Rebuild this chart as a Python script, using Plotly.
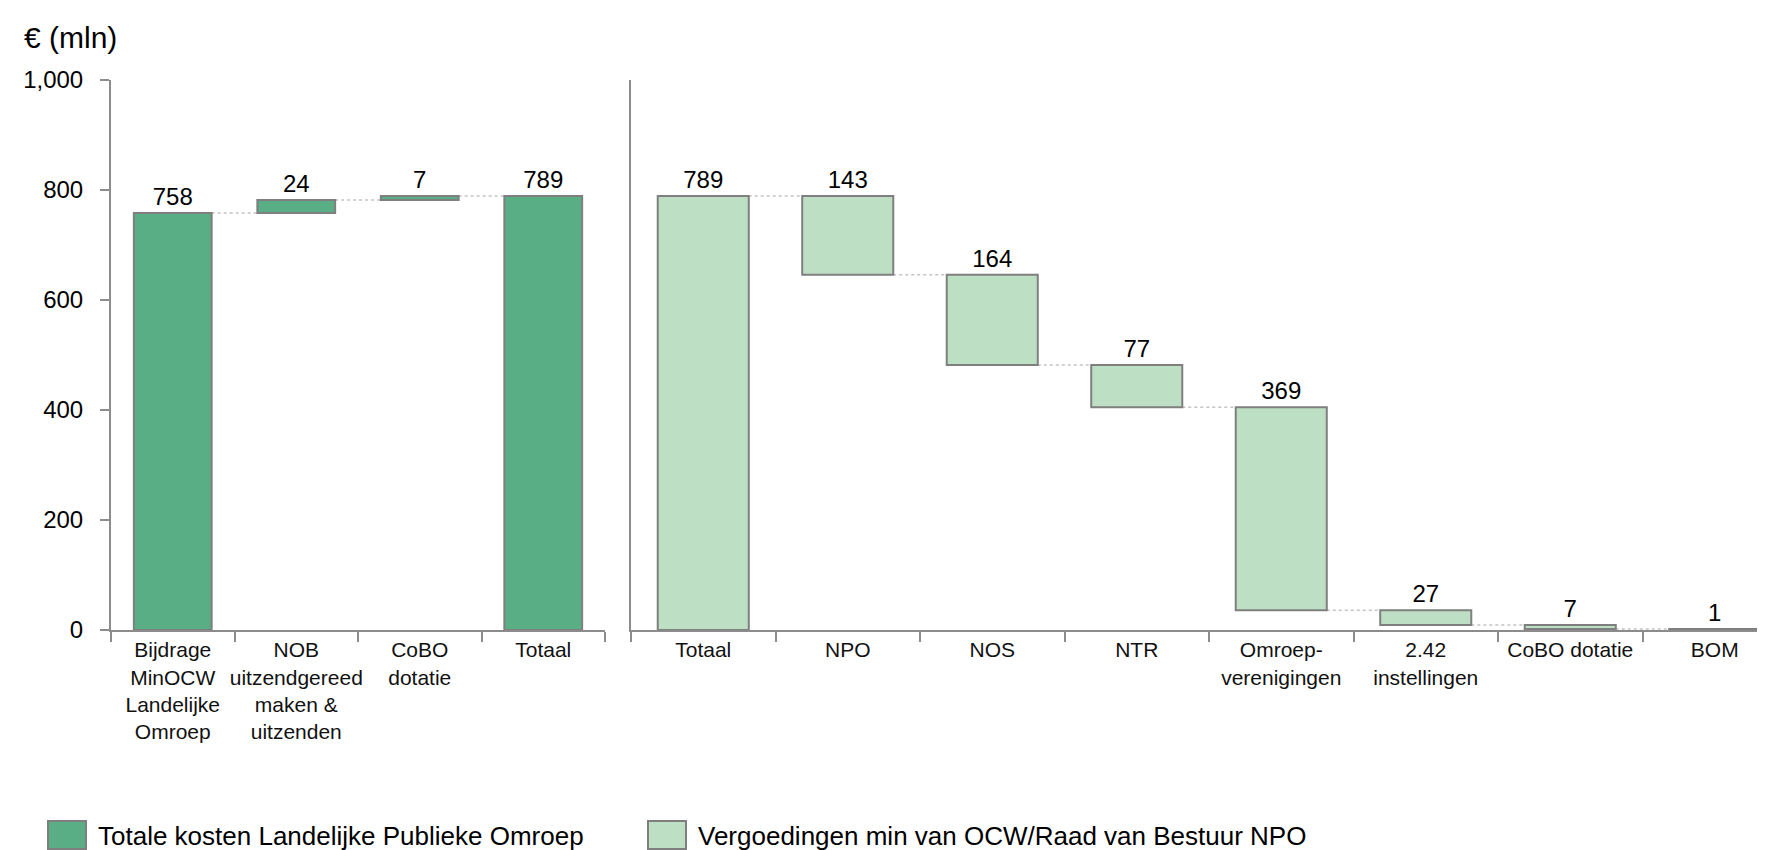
import plotly.graph_objects as go

# left panel: build-up of total costs
left_labels = ["Bijdrage<br>MinOCW<br>Landelijke<br>Omroep", "NOB<br>uitzendgereed<br>maken &<br>uitzenden",
               "CoBO<br>dotatie", "Totaal"]
left_values = [758, 24, 7, 789]
left_steps = ["start", "up", "up", "total"]

# right panel: split of the total
right_labels = ["Totaal", "NPO", "NOS", "NTR", "Omroep-<br>verenigingen", "2.42<br>instellingen",
                "CoBO dotatie", "BOM"]
right_values = [789, 143, 164, 77, 369, 27, 7, 1]
right_steps = ["total", "down", "down", "down", "down", "down", "down", "down"]

legend_names = ["Totale kosten Landelijke Publieke Omroep", "Vergoedingen min van OCW/Raad van Bestuur NPO"]

DARK = "#5aae85"
LIGHT = "#bde0c5"
EDGE = "#7f7f7f"
AXIS = "#8c8c8c"
FONT = "Liberation Sans, Arial, sans-serif"
W, H = 1765, 850
BARW = 0.63


def waterfall(values, steps):
    # returns bar bases and the running total after each bar (connector level)
    bases, levels = [], []
    run = 0
    for v, s in zip(values, steps):
        if s in ("start", "total"):
            bases.append(0)
            run = v
        elif s == "up":
            bases.append(run)
            run += v
        else:
            run -= v
            bases.append(run)
        levels.append(run)
    return bases, levels


fig = go.Figure()
shapes = []

for labels, values, steps, color, xa, ya in [
    (left_labels, left_values, left_steps, DARK, "x", "y"),
    (right_labels, right_values, right_steps, LIGHT, "x2", "y2"),
]:
    bases, levels = waterfall(values, steps)
    fig.add_trace(go.Bar(
        x=labels, y=values, base=bases, width=BARW,
        marker=dict(color=color, line=dict(color=EDGE, width=2)),
        text=[str(v) for v in values], textposition="outside",
        textfont=dict(size=24, color="#000000", family=FONT),
        constraintext="none", cliponaxis=False,
        xaxis=xa, yaxis=ya, showlegend=False, hoverinfo="skip",
    ))
    for i in range(len(values) - 1):
        shapes.append(dict(
            type="line", xref=xa, yref=ya,
            x0=i + BARW / 2, x1=i + 1 - BARW / 2, y0=levels[i], y1=levels[i],
            line=dict(color="#c4c4c4", width=1.5, dash="dot"), layer="below",
        ))

# legend drawn by hand so the swatches are big like in the original
for x0, color in [(40, DARK), (640, LIGHT)]:
    shapes.append(dict(
        type="rect", xref="paper", yref="paper",
        x0=x0 / W, x1=(x0 + 38) / W, y0=1 - 841 / H, y1=1 - 813 / H,
        fillcolor=color, line=dict(color=EDGE, width=2),
    ))

annotations = [dict(
    text="€ (mln)", x=14 / W, y=1 - 29 / H, xref="paper", yref="paper",
    xanchor="left", yanchor="middle", showarrow=False,
    font=dict(size=30, color="#000000", family=FONT),
)]
for x0, name in zip([88, 688], legend_names):
    annotations.append(dict(
        text=name, x=x0 / W, y=1 - 828 / H, xref="paper", yref="paper",
        xanchor="left", yanchor="middle", showarrow=False,
        font=dict(size=26, color="#000000", family=FONT),
    ))

y0p, y1p = 1 - 622 / H, 1 - 72 / H
xaxis_common = dict(
    type="category", showline=True, linecolor=AXIS, linewidth=2,
    ticks="outside", tickson="boundaries", ticklen=10, tickwidth=2, tickcolor=AXIS,
    showgrid=False, zeroline=False, tickangle=0, automargin=False,
    tickfont=dict(size=21, color="#111111", family=FONT),
)

fig.update_layout(
    width=W, height=H,
    margin=dict(l=0, r=0, t=0, b=0, autoexpand=False),
    plot_bgcolor="white", paper_bgcolor="white",
    font=dict(family=FONT),
    xaxis=dict(xaxis_common, domain=[103 / W, 597 / W], anchor="y", range=[-0.5, 3.5]),
    xaxis2=dict(xaxis_common, domain=[623 / W, 1.0], anchor="y2",
                range=[-0.5, -0.5 + (W - 623) / 144.5]),
    yaxis=dict(
        domain=[y0p, y1p], range=[0, 1000], tickvals=[0, 200, 400, 600, 800, 1000],
        tickformat=",", showline=True, linecolor=AXIS, linewidth=2,
        ticks="outside", ticklen=9, tickwidth=2, tickcolor=AXIS,
        showgrid=False, zeroline=False, anchor="x", ticklabelstandoff=12,
        automargin=False,
        tickfont=dict(size=24, color="#000000", family=FONT),
    ),
    yaxis2=dict(
        domain=[y0p, y1p], range=[0, 1000], showline=True, linecolor=AXIS, linewidth=2,
        showticklabels=False, ticks="", showgrid=False, zeroline=False, anchor="x2",
        automargin=False,
    ),
    shapes=shapes,
    annotations=annotations,
)

fig.write_html("out.html")
